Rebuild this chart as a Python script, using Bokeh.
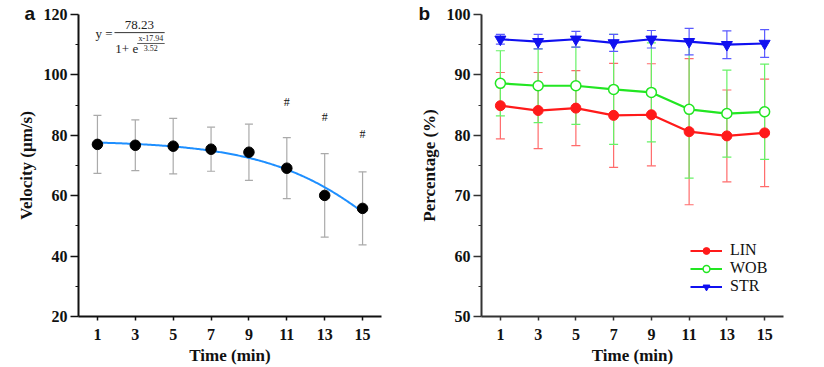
import numpy as np
from bokeh.plotting import figure
from bokeh.layouts import row
from bokeh.models import (Range1d, FixedTicker, ColumnDataSource, Whisker, TeeHead,
                          Label, Legend, LegendItem)
from bokeh.embed import file_html
from bokeh.resources import INLINE
from bokeh.core.properties import value

# ---------------- data ----------------
time = [1, 3, 5, 7, 9, 11, 13, 15]

velocity = [77.0, 76.7, 76.4, 75.4, 74.4, 69.1, 60.1, 55.8]
velocity_sd = [9.6, 8.4, 9.2, 7.3, 9.3, 10.1, 13.8, 12.1]

fit_a, fit_x0, fit_k = 78.23, 17.94, 3.52

hash_x = [11, 13, 15]
hash_y = [91.0, 85.9, 80.4]

lin = [84.9, 84.1, 84.5, 83.3, 83.4, 80.6, 79.9, 80.4]
lin_sd = [5.5, 6.3, 6.2, 8.6, 8.45, 12.1, 7.6, 8.9]
wob = [88.6, 88.2, 88.2, 87.6, 87.1, 84.3, 83.6, 83.9]
wob_sd = [5.4, 6.1, 6.4, 9.1, 8.2, 11.4, 7.2, 7.9]
strv = [95.9, 95.5, 95.9, 95.3, 95.9, 95.5, 95.0, 95.2]
str_sd = [0.8, 1.2, 1.3, 1.4, 1.45, 2.2, 2.3, 2.3]

left_yticks = [20, 40, 60, 80, 100, 120]
left_yminor = [30, 50, 70, 90, 110]
right_yticks = [50, 60, 70, 80, 90, 100]
right_yminor = [55, 65, 75, 85, 95]

SERIF = "Liberation Serif"
SANS = "Liberation Sans"


def style(p, yticks, yminor, axis_color, letter, letter_offset):
    p.xaxis.ticker = FixedTicker(ticks=time)
    p.yaxis.ticker = FixedTicker(ticks=yticks, minor_ticks=yminor)
    p.grid.visible = False
    p.outline_line_color = None
    for ax in (p.xaxis[0], p.yaxis[0]):
        ax.axis_line_color = axis_color
        ax.axis_line_width = 2
        ax.major_tick_line_color = axis_color
        ax.minor_tick_line_color = axis_color
        ax.major_tick_line_width = 1.5
        ax.minor_tick_line_width = 1.2
        ax.major_label_text_font = SERIF
        ax.major_label_text_font_style = "bold"
        ax.major_label_text_font_size = "16px"
        ax.major_label_text_color = "#111111"
        ax.axis_label_text_font = SERIF
        ax.axis_label_text_font_style = "bold"
        ax.axis_label_text_font_size = "17px"
        ax.axis_label_text_color = "#111111"
    p.yaxis.major_tick_in = 0
    p.yaxis.major_tick_out = 8
    p.yaxis.minor_tick_in = 0
    p.yaxis.minor_tick_out = 3
    p.yaxis.major_label_standoff = 3
    p.xaxis.major_tick_in = 0
    p.xaxis.major_tick_out = 4
    p.xaxis.minor_tick_out = 0
    p.xaxis.major_label_standoff = 8
    p.xaxis.axis_label_standoff = 3
    p.yaxis.axis_label_standoff = 5
    p.xaxis.axis_label = "Time (min)"
    # panel letter as title
    p.title.text = letter
    p.title.align = "left"
    p.title.offset = letter_offset
    p.title.text_font = SANS
    p.title.text_font_style = "bold"
    p.title.text_font_size = "19px"
    p.title.text_color = "#111111"
    p.title.standoff = -19


def lab(p, x, y, t, size, align="center", font=SERIF, style_="normal"):
    p.add_layout(Label(x=x, y=y, text=t, text_font=font, text_font_size=size,
                       text_align=align, text_baseline="middle", text_font_style=style_,
                       text_color="#222222"))


# ---------------- panel a ----------------
p1 = figure(width=409, height=358, output_backend="svg", toolbar_location=None,
            x_range=Range1d(0, 16), y_range=Range1d(20, 120),
            min_border_left=78, min_border_right=28, min_border_top=14, min_border_bottom=42)
p1.frame_width = 303
p1.frame_height = 302
style(p1, left_yticks, left_yminor, "#111111", "a", -54)
p1.yaxis.axis_label = "Velocity (μm/s)"

src1 = ColumnDataSource(dict(x=time, y=velocity,
                             up=[v + s for v, s in zip(velocity, velocity_sd)],
                             lo=[v - s for v, s in zip(velocity, velocity_sd)]))
p1.add_layout(Whisker(source=src1, base="x", upper="up", lower="lo",
                      line_color="#aaaaaa", line_width=1.2,
                      upper_head=TeeHead(size=8, line_color="#aaaaaa", line_width=1.2),
                      lower_head=TeeHead(size=8, line_color="#aaaaaa", line_width=1.2)))

xf = np.linspace(time[0], time[-1], 200)
yf = fit_a / (1 + np.exp((xf - fit_x0) / fit_k))
p1.line(xf, yf, line_color="#1e8fff", line_width=2)
p1.scatter("x", "y", source=src1, size=10.5, color="black")

p1.text(x=hash_x, y=hash_y, text=["#"] * len(hash_x), text_font=value(SERIF),
        text_font_size="12px", text_align="center", text_baseline="middle", color="#111111")

# formula annotation
lab(p1, 1.35, 113.6, "y =", "13px")
lab(p1, 3.22, 116.4, "78.23", "13px")
p1.segment(x0=[1.9], y0=[114.0], x1=[4.55], y1=[114.0], line_color="#333333", line_width=1)
lab(p1, 2.55, 108.7, "1+ e", "13px")
lab(p1, 3.82, 111.9, "x-17.94", "8px")
p1.segment(x0=[3.1], y0=[110.4], x1=[4.55], y1=[110.4], line_color="#333333", line_width=0.8)
lab(p1, 3.82, 109.0, "3.52", "8px")

# ---------------- panel b ----------------
p2 = figure(width=407, height=358, output_backend="svg", toolbar_location=None,
            x_range=Range1d(0, 16), y_range=Range1d(50, 100),
            min_border_left=72, min_border_right=33, min_border_top=14, min_border_bottom=42)
p2.frame_width = 302
p2.frame_height = 302
style(p2, right_yticks, right_yminor, "#333333", "b", -63)
p2.yaxis.axis_label = "Percentage (%)"

series = [("LIN", lin, lin_sd, "#ff1a1a", "#ff6b6b"),
          ("WOB", wob, wob_sd, "#22e622", "#66f266"),
          ("STR", strv, str_sd, "#1010f0", "#5a5aff")]

items = []
srcs = []
for name, vals, sd, col, ecol in series:
    src = ColumnDataSource(dict(x=time, y=vals,
                                up=[v + s for v, s in zip(vals, sd)],
                                lo=[v - s for v, s in zip(vals, sd)]))
    srcs.append(src)
    p2.add_layout(Whisker(source=src, base="x", upper="up", lower="lo",
                          line_color=ecol, line_width=1.2,
                          upper_head=TeeHead(size=9, line_color=ecol, line_width=1.2),
                          lower_head=TeeHead(size=9, line_color=ecol, line_width=1.2)))

for (name, vals, sd, col, ecol), src in zip(series, srcs):
    lr = p2.line("x", "y", source=src, line_color=col, line_width=2.2)
    if name == "LIN":
        sr = p2.scatter("x", "y", source=src, size=10, color=col)
    elif name == "WOB":
        sr = p2.scatter("x", "y", source=src, size=10, fill_color="white",
                        line_color=col, line_width=1.5)
    else:
        sr = p2.scatter("x", "y", source=src, size=11, marker="inverted_triangle", color=col)
    items.append(LegendItem(label=name, renderers=[lr, sr]))

leg = Legend(items=items, location=(209, 21), glyph_width=32, glyph_height=17,
             label_height=17, spacing=0, padding=0, margin=0, label_standoff=8,
             label_text_font=SERIF, label_text_font_size="16px",
             label_text_color="#111111", border_line_color=None,
             background_fill_alpha=0)
p2.add_layout(leg)

layout = row(p1, p2, spacing=0)
open("out.html", "w").write(file_html(layout, INLINE))
